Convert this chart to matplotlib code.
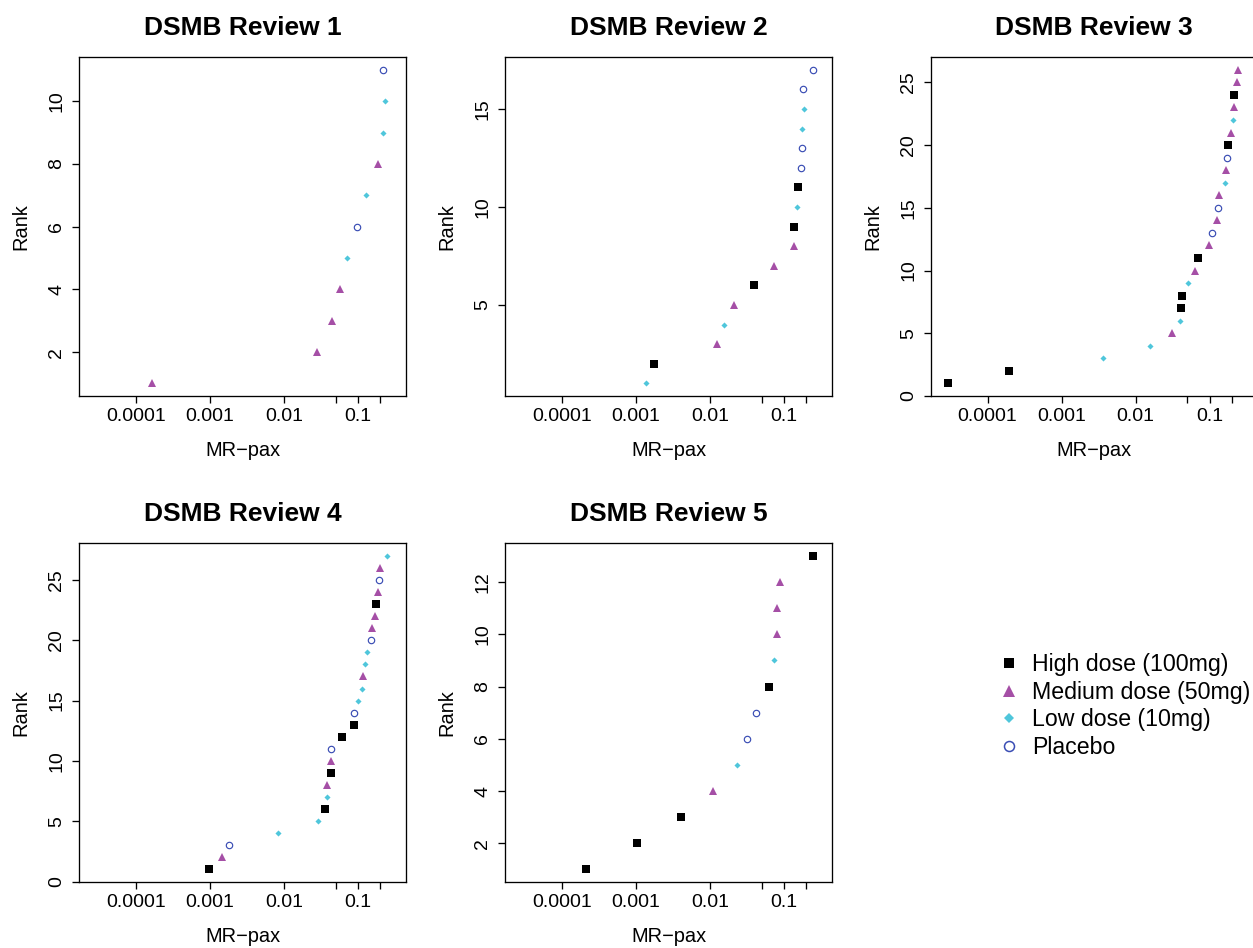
import matplotlib
matplotlib.use("Agg")
import matplotlib.pyplot as plt
from matplotlib.lines import Line2D
import numpy as np

plt.rcParams['font.family'] = ['Liberation Sans', 'DejaVu Sans']

# ---------------- data (MR-pax value per arm, ordered by rank) ----------------
titles = ["DSMB Review 1", "DSMB Review 2", "DSMB Review 3",
          "DSMB Review 4", "DSMB Review 5"]

review1_mr = [1.63e-4, 0.0281, 0.0449, 0.0563, 0.0702, 0.0977, 0.127, 0.185,
              0.220, 0.232, 0.220]
review1_grp = ["M", "M", "M", "M", "L", "P", "L", "M", "L", "L", "P"]

review2_mr = [1.37e-3, 1.73e-3, 0.0124, 0.0157, 0.0209, 0.0398, 0.0733, 0.135,
              0.138, 0.148, 0.156, 0.171, 0.175, 0.173, 0.185, 0.182, 0.249]
review2_grp = ["L", "H", "M", "L", "M", "H", "M", "M", "H", "L", "H", "P",
               "P", "L", "L", "P", "P"]

review3_mr = [2.89e-5, 1.92e-4, 3.66e-3, 0.0155, 0.0314, 0.0398, 0.0410, 0.0424,
              0.0504, 0.0634, 0.0695, 0.0989, 0.106, 0.124, 0.129, 0.133,
              0.163, 0.166, 0.169, 0.177, 0.195, 0.206, 0.215, 0.214, 0.236,
              0.240]
review3_grp = ["H", "H", "L", "L", "M", "L", "H", "H", "L", "M", "H", "M", "P",
               "M", "P", "M", "L", "M", "P", "H", "M", "L", "M", "H", "M", "M"]

review4_mr = [9.8e-4, 1.44e-3, 1.83e-3, 8.36e-3, 0.0287, 0.0353, 0.0377, 0.0385,
              0.0427, 0.0427, 0.0436, 0.0601, 0.0873, 0.0891, 0.0989, 0.114,
              0.116, 0.123, 0.131, 0.151, 0.156, 0.171, 0.173, 0.186, 0.192,
              0.200, 0.247]
review4_grp = ["H", "M", "P", "L", "L", "H", "L", "M", "H", "M", "P", "H", "H",
               "P", "L", "L", "M", "L", "L", "P", "M", "M", "H", "M", "P", "M",
               "L"]

review5_mr = [2.15e-4, 1.05e-3, 4.12e-3, 0.0109, 0.0232, 0.0321, 0.0415, 0.0635,
              0.0726, 0.0796, 0.0800, 0.0893, 0.249]
review5_grp = ["H", "H", "H", "M", "L", "P", "P", "H", "L", "M", "M", "M", "H"]

reviews_mr = [review1_mr, review2_mr, review3_mr, review4_mr, review5_mr]
reviews_grp = [review1_grp, review2_grp, review3_grp, review4_grp, review5_grp]

y_ticks = [[2, 4, 6, 8, 10], [5, 10, 15], [0, 5, 10, 15, 20, 25],
           [0, 5, 10, 15, 20, 25], [2, 4, 6, 8, 10, 12]]

x_ticks = [0.0001, 0.001, 0.01, 0.05, 0.1, 0.2]
x_ticklabels = ["0.0001", "0.001", "0.01", "", "0.1", ""]

group_codes = ["H", "M", "L", "P"]
group_labels = ["High dose (100mg)", "Medium dose (50mg)", "Low dose (10mg)",
                "Placebo"]

# ---------------- styles ----------------
colors = {"H": "black", "M": "#A54FA6", "L": "#4FC6DB", "P": "#3A4DB4"}
shapes = {"H": "s", "M": "^", "L": "D", "P": "o"}
plot_ms = {"H": 5.4, "M": 6.1, "L": 3.1, "P": 4.6}
legend_ms = {"H": 7.0, "M": 9.0, "L": 4.9, "P": 7.2}


def style(g, sizes, ring_width):
    c = colors[g]
    if g == "P":
        return dict(marker=shapes[g], ms=sizes[g], color=c, mfc="none",
                    mec=c, mew=ring_width)
    return dict(marker=shapes[g], ms=sizes[g], color=c, mfc=c, mec=c, mew=0)


W, H = 1253, 948
fig = plt.figure(figsize=(W / 100, H / 100), dpi=100)

col_left = [79.3, 505.3, 931.0]
row_top = [57.3, 543.3]
ax_w, ax_h = 326.3, 338.7

positions = [(0, 0), (0, 1), (0, 2), (1, 0), (1, 1)]

for i, (r, c) in enumerate(positions):
    left = col_left[c] / W
    bottom = 1 - (row_top[r] + ax_h) / H
    ax = fig.add_axes([left, bottom, ax_w / W, ax_h / H])
    mr = np.array(reviews_mr[i])
    grp = np.array(reviews_grp[i])
    rank = np.arange(1, len(mr) + 1)
    for g in group_codes:
        sel = grp == g
        if sel.any():
            ax.plot(mr[sel], rank[sel], linestyle="none",
                    **style(g, plot_ms, 0.85))
    ax.set_xscale("log")
    ax.set_xlim(10 ** -4.763, 10 ** -0.358)
    ax.margins(y=0.04)
    ax.set_xticks(x_ticks)
    ax.set_xticklabels(x_ticklabels)
    ax.xaxis.set_minor_locator(matplotlib.ticker.NullLocator())
    ax.set_yticks(y_ticks[i])
    ax.tick_params(axis="both", direction="out", length=5, width=0.95,
                   labelsize=14, colors="black")
    ax.tick_params(axis="x", pad=3.6)
    ax.tick_params(axis="y", pad=5.0, labelrotation=90)
    for lab in ax.get_yticklabels():
        lab.set_va("center")
    for sp in ax.spines.values():
        sp.set_linewidth(0.95)
        sp.set_color("black")
    ax.set_title(titles[i], fontsize=19, fontweight="bold", pad=16.3)
    ax.set_xlabel("MR\u2212pax", fontsize=14.4, va="center")
    ax.xaxis.set_label_coords(0.5, -54 / ax_h)
    ax.set_ylabel("Rank", fontsize=14.4, va="center")
    ax.yaxis.set_label_coords(-58 / ax_w, 0.5)

handles = [Line2D([], [], linestyle="none", **style(g, legend_ms, 1.1))
           for g in group_codes]
fig.legend(handles, group_labels, loc="upper left",
           bbox_to_anchor=(1002 / W, 1 - 653 / H), frameon=False,
           fontsize=16.7, handlelength=0.62, handletextpad=0.68,
           labelspacing=0.2, borderpad=0, borderaxespad=0)

fig.savefig("out.png", dpi=100, facecolor="white")
